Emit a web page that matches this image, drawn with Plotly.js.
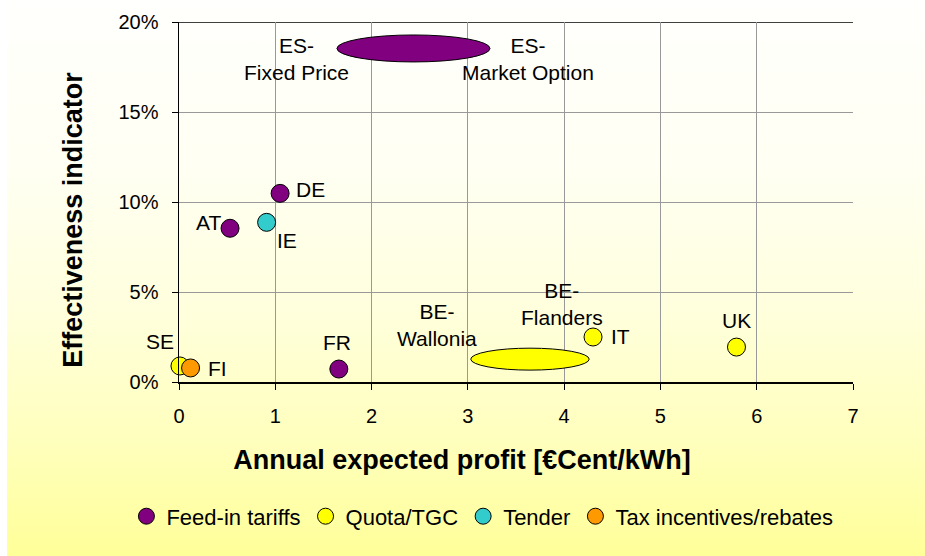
<!DOCTYPE html>
<html>
<head>
<meta charset="utf-8">
<script src="https://cdn.plot.ly/plotly-3.0.1.min.js"></script>
<style>
  html, body { margin: 0; padding: 0; }
  body {
    width: 925px; height: 556px; overflow: hidden;
    background:
      linear-gradient(to right, #ffffff 7px, rgba(255,255,255,0) 7px),
      linear-gradient(to bottom, rgb(255,255,253) 0%, rgb(255,255,243) 30%, rgb(255,255,222) 55%, rgb(255,255,188) 80%, rgb(255,255,153) 100%);
  }
  #chart { width: 925px; height: 556px; }
</style>
</head>
<body>
<div id="chart"></div>
<script>
// ---- data ----
const categories = ['Feed-in tariffs', 'Quota/TGC', 'Tender', 'Tax incentives/rebates'];

const fitNames = ['DE', 'AT', 'FR'];
const fitX = [1.05, 0.53, 1.66];
const fitY = [10.48, 8.54, 0.72];

const quotaNames = ['SE', 'IT', 'UK'];
const quotaX = [0.01, 4.30, 5.79];
const quotaY = [0.89, 2.50, 1.94];

const tenderNames = ['IE'];
const tenderX = [0.91];
const tenderY = [8.87];

const taxNames = ['FI'];
const taxX = [0.12];
const taxY = [0.78];

// ranges (x: min,max ; y: min,max) of the two range ellipses
const esRangeX = [1.64, 3.23];
const esRangeY = [17.78, 19.28];
const beRangeX = [3.03, 4.26];
const beRangeY = [0.66, 1.88];

const xTicks = [0, 1, 2, 3, 4, 5, 6, 7];
const yTicks = [0, 5, 10, 15, 20];
const yTickLabels = ['0%', '5%', '10%', '15%', '20%'];

// ---- styles ----
const colors = ['#800080', '#FFFF00', '#33CCCC', '#FF9900'];
const FONT = 'Arial, "Liberation Sans", sans-serif';
const labelFont = { family: FONT, size: 21, color: '#000' };

function trace(name, xs, ys, names, color) {
  return {
    type: 'scatter', mode: 'markers', name: name,
    x: xs, y: ys, text: names, hoverinfo: 'text+x+y', cliponaxis: false,
    marker: { size: 18, color: color, line: { color: '#000', width: 1 } }
  };
}

const data = [
  trace(categories[0], fitX, fitY, fitNames, colors[0]),
  trace(categories[1], quotaX, quotaY, quotaNames, colors[1]),
  trace(categories[2], tenderX, tenderY, tenderNames, colors[2]),
  trace(categories[3], taxX, taxY, taxNames, colors[3])
];

// label offsets (pixels) per point name: [xanchor, xshift, yshift]
const labelStyle = {
  DE: ['left', 14, 4], AT: ['right', -7, 6], FR: ['center', -2, 27],
  SE: ['center', -20, 24], IT: ['left', 16, 1], UK: ['center', 0, 27],
  IE: ['left', 8, -18], FI: ['left', 15, -1]
};

const annotations = [];
[[fitNames, fitX, fitY], [quotaNames, quotaX, quotaY], [tenderNames, tenderX, tenderY], [taxNames, taxX, taxY]]
  .forEach(([ns, xs, ys]) => {
    ns.forEach((n, i) => {
      const s = labelStyle[n];
      annotations.push({
        x: xs[i], y: ys[i], xref: 'x', yref: 'y', text: n, showarrow: false,
        xanchor: s[0], yanchor: 'middle', xshift: s[1], yshift: s[2], font: labelFont
      });
    });
  });

const esMidY = (esRangeY[0] + esRangeY[1]) / 2;
const beMidY = (beRangeY[0] + beRangeY[1]) / 2;
const rangeLabels = [
  ['ES-<br>Fixed Price', esRangeX[0], esMidY, -40, -11],
  ['ES-<br>Market Option', esRangeX[1], esMidY, 38, -11],
  ['BE-<br>Wallonia', beRangeX[0], beMidY, -34, 34],
  ['BE-<br>Flanders', beRangeX[1], beMidY, -27, 55]
];
rangeLabels.forEach(r => annotations.push({
  x: r[1], y: r[2], xref: 'x', yref: 'y', text: r[0], showarrow: false, align: 'center',
  xanchor: 'center', yanchor: 'middle', xshift: r[3], yshift: r[4], font: labelFont
}));

const shapes = [
  { type: 'line', xref: 'paper', yref: 'y', x0: 0, x1: 1, y0: yTicks[yTicks.length - 1], y1: yTicks[yTicks.length - 1],
    line: { color: '#000', width: 1.5 }, layer: 'below' },
  { type: 'circle', xref: 'x', yref: 'y', x0: esRangeX[0], x1: esRangeX[1], y0: esRangeY[0], y1: esRangeY[1],
    fillcolor: colors[0], line: { color: '#000', width: 1 } },
  { type: 'circle', xref: 'x', yref: 'y', x0: beRangeX[0], x1: beRangeX[1], y0: beRangeY[0], y1: beRangeY[1],
    fillcolor: colors[1], line: { color: '#000', width: 1 } }
];

const layout = {
  width: 925, height: 556,
  margin: { l: 179, r: 71.5, t: 21.5, b: 174, pad: 0 },
  paper_bgcolor: 'rgba(0,0,0,0)',
  plot_bgcolor: 'rgba(0,0,0,0)',
  font: { family: FONT, color: '#000' },
  showlegend: true,
  legend: {
    orientation: 'h', x: -0.078, y: -0.315, xanchor: 'left', yanchor: 'top',
    font: { family: FONT, size: 22, color: '#000' },
    bgcolor: 'rgba(0,0,0,0)', itemwidth: 30, tracegroupgap: 0
  },
  xaxis: {
    range: [xTicks[0], xTicks[xTicks.length - 1]], tickmode: 'array', tickvals: xTicks,
    showgrid: true, gridcolor: '#999999', gridwidth: 1,
    zeroline: false, showline: true, linecolor: '#000', linewidth: 1.5,
    ticks: 'outside', ticklen: 6, tickcolor: '#000', ticklabelstandoff: 9,
    tickfont: { family: FONT, size: 20, color: '#000' },
    title: { text: '<b>Annual expected profit [€Cent/kWh]</b>', font: { family: FONT, size: 27, color: '#000' }, standoff: 24 },
    fixedrange: true
  },
  yaxis: {
    range: [yTicks[0], yTicks[yTicks.length - 1]], tickmode: 'array', tickvals: yTicks, ticktext: yTickLabels,
    showgrid: true, gridcolor: '#999999', gridwidth: 1,
    zeroline: false, showline: true, linecolor: '#000', linewidth: 1.5,
    ticks: 'outside', ticklen: 6, tickcolor: '#000', ticklabelstandoff: 9,
    tickfont: { family: FONT, size: 20, color: '#000' },
    title: { text: '<b>Effectiveness indicator</b>', font: { family: FONT, size: 27, color: '#000' }, standoff: 28 },
    fixedrange: true
  },
  annotations: annotations,
  shapes: shapes
};

Plotly.newPlot('chart', data, layout, { displayModeBar: false, staticPlot: true }).then(gd => {
  // the reference's axis titles sit off-centre relative to the plot area
  const xt = gd.querySelector('.g-xtitle');
  if (xt) xt.setAttribute('transform', 'translate(-54,0)');
  const yt = gd.querySelector('.g-ytitle');
  if (yt) yt.setAttribute('transform', 'translate(0,18)');
});
</script>
</body>
</html>
